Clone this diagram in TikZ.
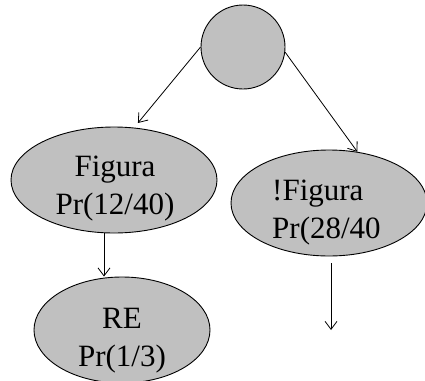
\documentclass[tikz,border=0pt]{standalone}
\usepackage{fontspec}
\setmainfont{Liberation Serif}
\usetikzlibrary{shapes.geometric,arrows.meta,positioning}
\definecolor{nodegray}{RGB}{192,192,192}

\begin{document}
\begin{tikzpicture}[x=1pt,y=-1pt,
  every node/.append style={font=\fontsize{31}{38}\selectfont},
  leaf/.style={ellipse,draw,fill=nodegray,line width=0.9pt,inner sep=0pt},
  txt/.style={inner sep=0pt},
  arr/.style={-{Straight Barb[length=8pt,width=12pt]},line width=0.8pt}]
\useasboundingbox (0,0) rectangle (425,380);

\node[circle,draw,fill=nodegray,line width=0.9pt,minimum size=84pt,inner sep=0pt](root) at (243,47){};

\node[leaf,minimum width=206pt,minimum height=106pt](fig) at (114,180){};
\node[txt,align=center](figtxt) at (115,189){Figura\\Pr(12/40)};

\node[leaf,minimum width=196pt,minimum height=106pt](nfig) at (329,203){};
\node[txt,align=left,anchor=west](nfigtxt) at (272,213){!Figura\\Pr(28/40};

\node[leaf,minimum width=176pt,minimum height=106pt](re) at (122,330){};
\node[txt,align=center](retxt) at (122,341){RE\\Pr(1/3)};

\coordinate (loose) at (331,330);

\draw[arr,shorten >=6pt] (root.west) -- (fig.69);
\draw[arr] (root.-7) -- (nfig.61);
\draw[arr] ([xshift=-10pt]fig.south) -- ([xshift=-10pt]fig.south |- re.north);
\draw[arr,shorten <=7pt] (nfig.south -| loose) -- (loose);

\end{tikzpicture}
\end{document}
